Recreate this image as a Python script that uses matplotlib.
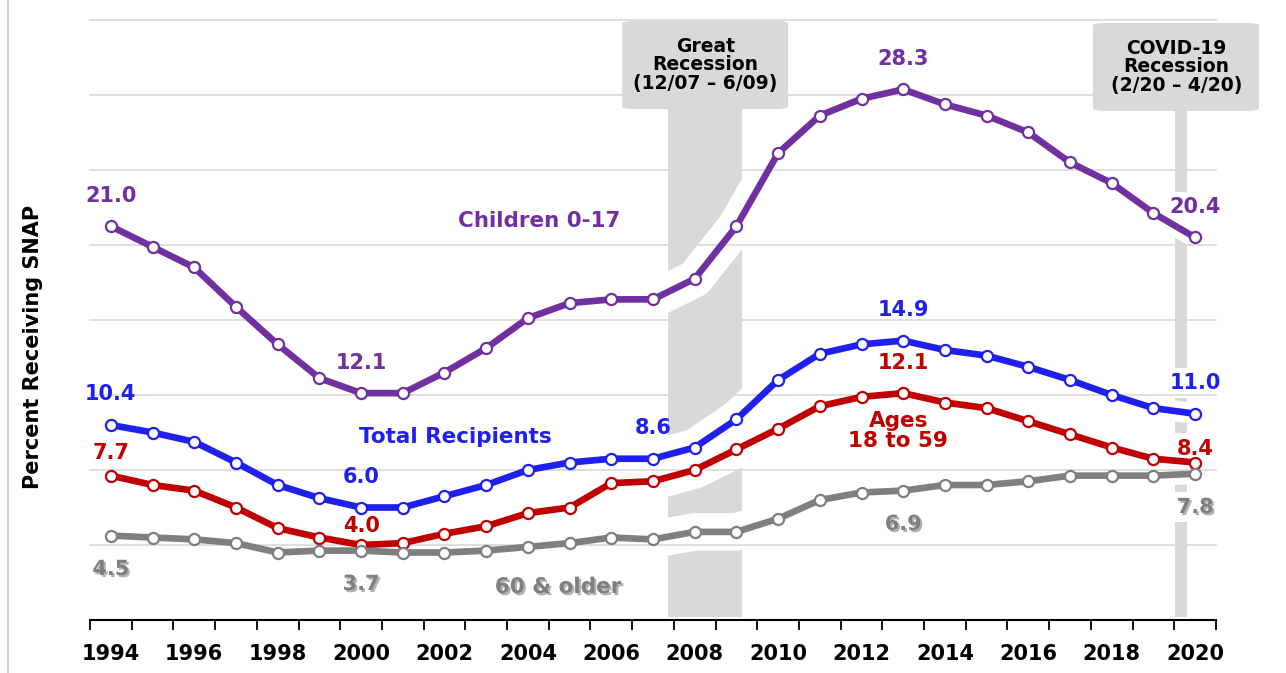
import numpy as np
import matplotlib
matplotlib.use("Agg")
import matplotlib.pyplot as plt
import matplotlib.patheffects as pe
from matplotlib.patches import FancyBboxPatch, Rectangle
from matplotlib.lines import Line2D

# data (percent receiving SNAP)
years = np.arange(1994, 2021)
children = [21.0, 19.9, 18.8, 16.7, 14.7, 12.9, 12.1, 12.1, 13.2, 14.5, 16.1, 16.9, 17.1,
            17.1, 18.2, 21.0, 24.9, 26.9, 27.8, 28.3, 27.5, 26.9, 26.0, 24.4, 23.3, 21.7, 20.4]
total = [10.4, 10.0, 9.5, 8.4, 7.2, 6.5, 6.0, 6.0, 6.6, 7.2, 8.0, 8.4, 8.6,
         8.6, 9.2, 10.7, 12.8, 14.2, 14.7, 14.9, 14.4, 14.1, 13.5, 12.8, 12.0, 11.3, 11.0]
ages18_59 = [7.7, 7.2, 6.9, 6.0, 4.9, 4.4, 4.0, 4.1, 4.6, 5.0, 5.7, 6.0, 7.3,
             7.4, 8.0, 9.1, 10.2, 11.4, 11.9, 12.1, 11.6, 11.3, 10.6, 9.9, 9.2, 8.6, 8.4]
older60 = [4.5, 4.4, 4.3, 4.1, 3.6, 3.7, 3.7, 3.6, 3.6, 3.7, 3.9, 4.1, 4.4,
           4.3, 4.7, 4.7, 5.4, 6.4, 6.8, 6.9, 7.2, 7.2, 7.4, 7.7, 7.7, 7.7, 7.8]

children_lab = [1994, 2000, 2013, 2020]
total_lab = [1994, 2000, 2007, 2013, 2020]
ages_lab = [1994, 2000, 2013, 2020]
older_lab = [1994, 2000, 2013, 2020]

great_rec = (2007.36, 2009.14)
covid_rec = (2019.52, 2019.81)

PURPLE = '#7030A0'
BLUE = '#2020EE'
RED = '#C00000'
GRAY = '#7F7F7F'
BAND = '#D9D9D9'

fig = plt.figure(figsize=(12.86, 6.73), dpi=100, facecolor='w')
ax = fig.add_axes([90/1286, 53/673, 1126/1286, 600/673])
ax.set_xlim(1993.5, 2020.5)
ax.set_ylim(0, 32)

# recession bands
bands = []
for (x0, x1) in [great_rec, covid_rec]:
    r = Rectangle((x0, 0.15), x1 - x0, 27.15, facecolor=BAND, edgecolor='none', zorder=1)
    ax.add_patch(r)
    bands.append(r)

series = [(children, PURPLE), (total, BLUE), (ages18_59, RED), (older60, GRAY)]

# white breaks where lines cross the bands
for band, hw in zip(bands, [27, 15]):
    for vals, c in series:
        h, = ax.plot(years, vals, color='white', lw=hw, zorder=1.5,
                     solid_capstyle='round', solid_joinstyle='round')
        h.set_clip_path(band)

# gridlines
for y in range(4, 33, 4):
    ax.axhline(y, color='#D9D9D9', lw=1.2, zorder=2, clip_on=False)

for vals, c in series:
    ax.plot(years, vals, color=c, lw=4.8, marker='o', ms=8, mfc='white',
            mec=c, mew=1.6, zorder=3)

# value labels
def label(vals, yrs, c, dy, shadow=False, special=None):
    special = special or {}
    for yr in yrs:
        v = vals[yr - 1994]
        off = special.get(yr, dy)
        kw = {}
        if yr == 2020:
            kw['bbox'] = dict(boxstyle='square,pad=0.25', fc='white', ec='none')
        t = ax.annotate(f"{v:.1f}", (yr, v), xytext=(0, off), textcoords='offset points',
                        ha='center', va='center', color=c, fontsize=15,
                        fontweight='bold', zorder=1.8 if yr == 2020 else 4,
                        annotation_clip=False, **kw)
        if shadow:
            t.set_path_effects([pe.withSimplePatchShadow(offset=(1.5, -1.5),
                                                         shadow_rgbFace='k', alpha=0.3)])

label(children, children_lab, PURPLE, 22)
label(total, total_lab, BLUE, 22)
label(ages18_59, ages_lab, RED, 21.5, special={1994: 16.5, 2000: 14, 2020: 10})
label(older60, older_lab, GRAY, -24, shadow=True)

# series names
ax.text(2004.27, 21.3, "Children 0-17", color=PURPLE, fontsize=15.5, fontweight='bold',
        ha='center', va='center', zorder=4)
ax.text(2002.25, 9.76, "Total Recipients", color=BLUE, fontsize=15.5, fontweight='bold',
        ha='center', va='center', zorder=4)
ax.text(2012.88, 10.08, "Ages\n18 to 59", color=RED, fontsize=15.5, fontweight='bold',
        ha='center', va='center', zorder=4, linespacing=0.95)
t = ax.text(2004.72, 1.76, "60 & older", color=GRAY, fontsize=15.5, fontweight='bold',
            ha='center', va='center', zorder=4)
t.set_path_effects([pe.withSimplePatchShadow(offset=(1.5, -1.5), shadow_rgbFace='k', alpha=0.3)])

# recession callouts
asp = 41.7 / 18.75
for (x0, x1, y0, y1, txt, xc) in [
        (2006.26, 2010.24, 27.25, 31.95, "Great\nRecession\n(12/07 \u2013 6/09)", 2008.25),
        (2017.55, 2021.53, 27.15, 31.84, "COVID-19\nRecession\n(2/20 \u2013 4/20)", 2019.55)]:
    box = FancyBboxPatch((x0, y0), x1 - x0, y1 - y0,
                         boxstyle='round,pad=0,rounding_size=0.3',
                         mutation_aspect=1 / asp, facecolor=BAND, edgecolor='none',
                         zorder=5, clip_on=False)
    ax.add_patch(box)
    ax.text(xc, (y0 + y1) / 2, txt, ha='center', va='center', fontsize=13.5,
            fontweight='bold', color='black', zorder=6, linespacing=0.95)

# axes styling
for s in ['left', 'right', 'top']:
    ax.spines[s].set_visible(False)
ax.spines['bottom'].set_color('black')
ax.spines['bottom'].set_linewidth(1.5)
ax.spines['bottom'].set_zorder(5)
ax.set_yticks([])
ax.set_xticks(np.arange(1994, 2021, 2))
ax.set_xticks(np.arange(1993.5, 2021, 1), minor=True)
ax.tick_params(axis='x', which='major', length=0, pad=17, labelsize=15)
ax.tick_params(axis='x', which='minor', length=7, width=1.3, color='black', direction='out')
for lab in ax.get_xticklabels():
    lab.set_fontweight('bold')

fig.text(33/1286, 1 - 347/673, "Percent Receiving SNAP", rotation=90, ha='center',
         va='center', fontsize=15, fontweight='bold')
fig.add_artist(Line2D([8/1286, 8/1286], [0, 1], color='#D0D0D0', lw=1.5))

fig.savefig("out.png", dpi=100)
